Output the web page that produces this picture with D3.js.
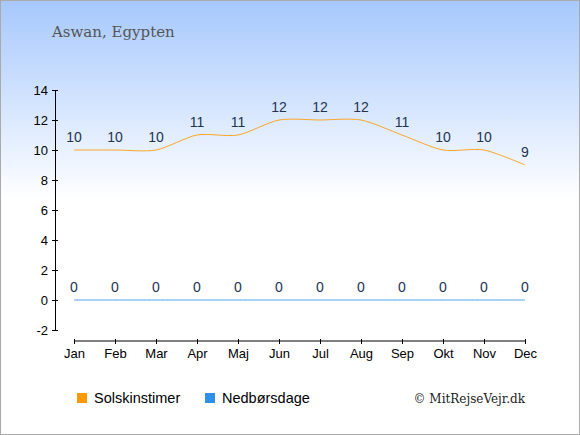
<!DOCTYPE html>
<html><head><meta charset="utf-8">
<script src="https://cdn.jsdelivr.net/npm/d3@7"></script>
<style>
html,body{margin:0;padding:0;background:#fff;}
svg{display:block;}
</style></head>
<body>
<script>
const months = ["Jan","Feb","Mar","Apr","Maj","Jun","Jul","Aug","Sep","Okt","Nov","Dec"];
const solskinstimer = [10,10,10,11,11,12,12,12,11,10,10,9];
const nedborsdage = [0,0,0,0,0,0,0,0,0,0,0,0];
const yTicks = [-2,0,2,4,6,8,10,12,14];
const title = "Aswan, Egypten";
const seriesNames = ["Solskinstimer","Nedbørsdage"];
const seriesColors = ["#ff9900","#2e90e8"];

const W = 580, H = 435;
const svg = d3.select("body").append("svg").attr("width", W).attr("height", H);
const defs = svg.append("defs");
const grad = defs.append("linearGradient").attr("id","bg")
  .attr("gradientUnits","userSpaceOnUse").attr("x1",0).attr("y1",0).attr("x2",0).attr("y2",200);
grad.append("stop").attr("offset","0%").attr("stop-color","#a6c8fd");
grad.append("stop").attr("offset","100%").attr("stop-color","#ffffff");
svg.append("rect").attr("x",0).attr("y",0).attr("width",W).attr("height",H).attr("fill","url(#bg)");
svg.append("rect").attr("x",0.5).attr("y",0.5).attr("width",W-1).attr("height",H-1).attr("fill","none").attr("stroke","#aaaaaa");

svg.append("text").attr("x",52).attr("y",37).text(title)
  .attr("font-family","'DejaVu Serif', serif").attr("font-size",15).attr("fill","#555555");

const x = d3.scalePoint().domain(months).range([74,525]);
const y = d3.scaleLinear().domain([-2,14]).range([330,90]);

// y axis
const yAxis = svg.append("g").attr("transform","translate(55,0)")
  .call(d3.axisLeft(y).tickValues(yTicks).tickFormat(d=>String(d)).tickSize(3).tickSizeOuter(0).tickPadding(4));
yAxis.select(".domain").attr("stroke","#000");
yAxis.selectAll(".tick line").attr("x2",3).attr("x1",-3).attr("stroke","#000");
yAxis.selectAll("text").attr("font-family","'Liberation Sans', Arial, sans-serif").attr("font-size",13).attr("fill","#000");

// x axis
const xAxis = svg.append("g").attr("transform","translate(0,341)")
  .call(d3.axisBottom(x).tickSize(3).tickSizeOuter(0).tickPadding(5));
xAxis.select(".domain").attr("stroke","#000").attr("d","M74,0H525");
xAxis.selectAll(".tick line").attr("y1",-2).attr("y2",3).attr("stroke","#000");
xAxis.selectAll("text").attr("font-family","'Liberation Sans', Arial, sans-serif").attr("font-size",13).attr("fill","#000");

const line = d3.line().x((d,i)=>x(months[i])).y(d=>y(d)).curve(d3.curveCardinal.tension(0.2));

const allSeries = [solskinstimer, nedborsdage];
allSeries.forEach((vals, si) => {
  svg.append("path").datum(vals).attr("d", line).attr("fill","none")
    .attr("stroke", seriesColors[si]).attr("stroke-width",1).attr("opacity",0.85);
  svg.append("g").selectAll("text").data(vals).join("text")
    .attr("x",(d,i)=>x(months[i])).attr("y",d=>y(d)-8)
    .attr("text-anchor","middle")
    .attr("font-family","'Liberation Sans', Arial, sans-serif").attr("font-size",14)
    .attr("fill","#233354").text(d=>d);
});

// legend
const legend = svg.append("g");
const legX = [77, 205];
seriesNames.forEach((n, i) => {
  legend.append("rect").attr("x",legX[i]).attr("y",393).attr("width",10).attr("height",10).attr("fill",seriesColors[i]);
  legend.append("text").attr("x",legX[i]+17).attr("y",403).text(n)
    .attr("font-family","'Liberation Sans', Arial, sans-serif").attr("font-size",14.5).attr("fill","#000");
});

svg.append("text").attr("x",525).attr("y",403).attr("text-anchor","end").text("© MitRejseVejr.dk")
  .attr("font-family","'DejaVu Serif', serif").attr("font-size",12).attr("fill","#222");
</script>
</body></html>
